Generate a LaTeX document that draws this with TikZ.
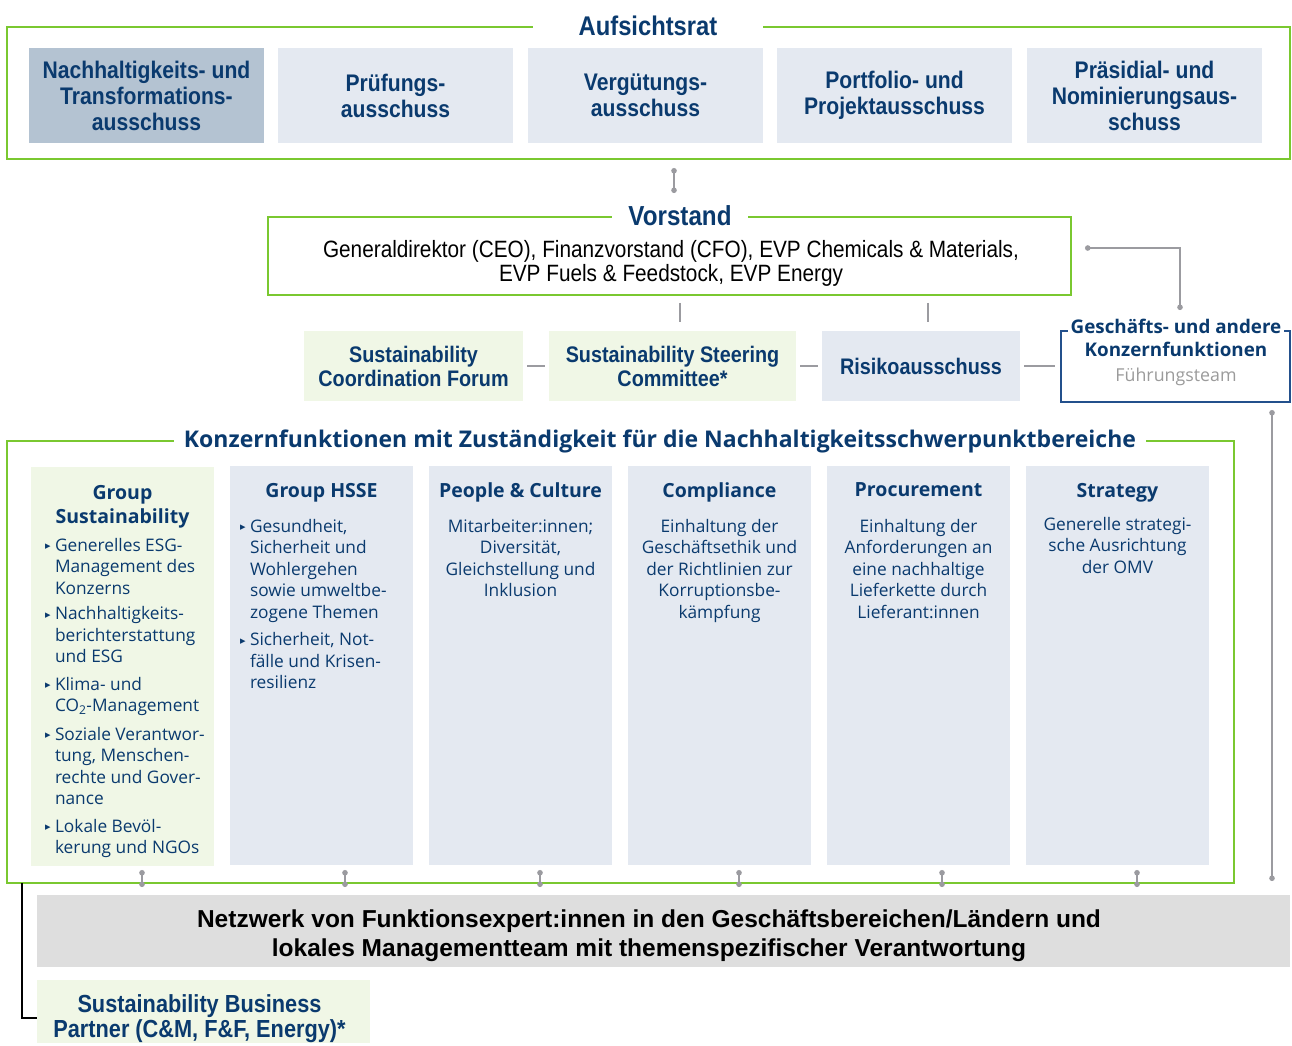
\documentclass[tikz,border=0pt]{standalone}
\usepackage{fontspec}
\setmainfont{Open Sans}
\newfontfamily\condf[FakeStretch=0.88]{Liberation Sans}
\newfontfamily\plainf{Liberation Sans}
\newfontfamily\symf{DejaVu Sans}
\usetikzlibrary{arrows.meta,positioning}
\definecolor{kgreen}{RGB}{122,200,48}
\definecolor{kblue}{RGB}{10,58,110}
\definecolor{kpale}{RGB}{228,233,241}
\definecolor{kdark}{RGB}{180,195,210}
\definecolor{kmint}{RGB}{240,247,230}
\definecolor{kgrey}{RGB}{222,222,222}
\definecolor{klink}{RGB}{155,155,160}
\definecolor{knavy}{RGB}{35,80,140}
\definecolor{kmute}{RGB}{155,155,155}
\newcommand{\bul}{\makebox[10pt][l]{\raisebox{1.5pt}{\symf\fontsize{11}{11}\selectfont ▸}}}
\newcommand{\hi}{\hspace*{10pt}}
\tikzset{
  frame/.style={draw=kgreen, line width=1.8pt, inner sep=0pt},
  ftitle/.style={fill=white, text=kblue, inner ysep=3pt,
    font=\condf\bfseries\fontsize{27}{28}\selectfont},
  topbox/.style={fill=kpale, text=kblue, align=center, minimum width=235pt,
    minimum height=95pt, inner sep=0pt, font=\condf\bfseries\fontsize{24}{26}\selectfont},
  midbox/.style={text=kblue, align=center, minimum height=70pt, inner sep=0pt,
    font=\condf\bfseries\fontsize{22.5}{24}\selectfont},
  colbox/.style={fill=kpale, minimum width=183pt, minimum height=399pt, inner sep=0pt},
  colhead/.style={text=kblue, align=center, anchor=north, inner sep=0pt,
    font=\bfseries\fontsize{19.5}{24}\selectfont},
  colbody/.style={text=kblue, align=center, anchor=north, inner sep=0pt,
    font=\fontsize{17.3}{21.5}\selectfont},
  conn/.style={draw=klink, line width=1.5pt},
  dotlink/.style={conn, {Circle[length=5.5pt]}-{Circle[length=5.5pt]}}
}
\begin{document}
\begin{tikzpicture}[x=1pt, y=-1pt]
  \useasboundingbox (0,0) rectangle (1292,1045);

  % Aufsichtsrat
  \node[frame, minimum width=1283pt, minimum height=132pt] (aufs) at (648.5,93) {};
  \node[ftitle, inner xsep=46pt] (aufst) at (648,26) {Aufsichtsrat};
  \node[topbox, fill=kdark] (nta) at (146.5,95.5) {Nachhaltigkeits- und\\Transformations-\\ausschuss};
  \node[topbox] (pruef) at (395.5,95.5) {Prüfungs-\\ausschuss};
  \node[topbox] (verg) at (645.5,95.5) {Vergütungs-\\ausschuss};
  \node[topbox] (portf) at (894.5,95.5) {Portfolio- und\\Projektausschuss};
  \node[topbox] (praes) at (1144.5,95.5) {Präsidial- und\\Nominierungsaus-\\schuss};

  \coordinate (av1) at (674,168);
  \coordinate (av2) at (674,193);
  \draw[dotlink] (av1) -- (av2);

  % Vorstand
  \node[frame, minimum width=803pt, minimum height=78pt] (vorst) at (669.5,256) {};
  \node[ftitle, inner xsep=16pt, font=\condf\bfseries\fontsize{27.5}{28}\selectfont] (vorstt) at (680,216) {Vorstand};
  \node[align=center, inner sep=0pt, font=\condf\fontsize{23.6}{24}\selectfont] (vbody) at (671,263)
    {Generaldirektor (CEO), Finanzvorstand (CFO), EVP Chemicals \& Materials,\\EVP Fuels \& Feedstock, EVP Energy};

  % Gremien
  \node[midbox, fill=kmint, minimum width=219pt] (scf) at (413.5,366) {Sustainability\\Coordination Forum};
  \node[midbox, fill=kmint, minimum width=247pt] (ssc) at (672.5,366) {Sustainability Steering\\Committee*};
  \node[midbox, fill=kpale, minimum width=198pt] (risk) at (921,366) {Risikoausschuss};
  \node[draw=knavy, line width=1.5pt, fill=white, minimum width=229pt, minimum height=71pt] (gf) at (1175.5,366.5) {};
  \node[fill=white, text=kblue, align=center, inner xsep=3pt, inner ysep=2pt,
    font=\bfseries\fontsize{18.8}{23}\selectfont] (gft) at (1176,337.5) {Geschäfts- und andere\\Konzernfunktionen};
  \node[text=kmute, inner sep=0pt, font=\fontsize{17.8}{20}\selectfont] (gfs) at (1176,377) {Führungsteam};

  \draw[conn, shorten <=7pt, shorten >=9pt] (vorst.south -| 680,0) -- (ssc.north -| 680,0);
  \draw[conn, shorten <=7pt, shorten >=9pt] (vorst.south -| 928,0) -- (risk.north -| 928,0);
  \draw[conn, shorten <=4pt, shorten >=4pt] (scf) -- (ssc);
  \draw[conn, shorten <=4pt, shorten >=4pt] (ssc) -- (risk);
  \draw[conn, shorten <=4pt, shorten >=5pt] (risk.east) -- (risk.east -| gf.west);

  \coordinate (vg1) at (1085,248);
  \coordinate (vg2) at (1180,310);
  \draw[dotlink] (vg1) -| (vg2);
  \coordinate (gr1) at (1272,410);
  \coordinate (gr2) at (1272,881);
  \draw[dotlink] (gr1) -- (gr2);

  % Konzernfunktionen
  \node[frame, minimum width=1227pt, minimum height=442pt] (konz) at (620.5,662) {};
  \node[fill=white, text=kblue, inner xsep=10pt, inner ysep=3pt,
    font=\bfseries\fontsize{23}{26}\selectfont] (konzt) at (660,441)
    {Konzernfunktionen mit Zuständigkeit für die Nachhaltigkeitsschwerpunktbereiche};

  \node[colbox, fill=kmint] (gs) at (122.5,666.5) {};
  \node[colbox] (hsse) at (321.5,665.5) {};
  \node[colbox] (pc) at (520.5,665.5) {};
  \node[colbox] (comp) at (719.5,665.5) {};
  \node[colbox] (proc) at (918.5,665.5) {};
  \node[colbox] (strat) at (1117.5,665.5) {};

  \node[colhead] at ([yshift=-18pt]gs.north) {Group\\Sustainability};
  \node[colhead] at ([yshift=-17pt]hsse.north) {Group HSSE};
  \node[colhead] at ([yshift=-17pt]pc.north) {People \& Culture};
  \node[colhead] at ([yshift=-17pt]comp.north) {Compliance};
  \node[colhead] at ([yshift=-17pt]proc.north) {Procurement};
  \node[colhead] at ([yshift=-17pt]strat.north) {Strategy};

  \node[colbody, align=left, anchor=north west] at ([xshift=14pt, yshift=-71pt]gs.north west)
    {\bul Generelles ESG-\\
     \hi Management des\\
     \hi Konzerns\\[4pt]
     \bul Nachhaltigkeits-\\
     \hi berichterstattung\\
     \hi und ESG\\[6pt]
     \bul Klima- und\\
     \hi CO\textsubscript{2}-Management\\[7pt]
     \bul Soziale Verantwor-\\
     \hi tung, Menschen-\\
     \hi rechte und Gover-\\
     \hi nance\\[6pt]
     \bul Lokale Bevöl-\\
     \hi kerung und NGOs};
  \node[colbody, align=left, anchor=north west] at ([xshift=10pt, yshift=-53pt]hsse.north west)
    {\bul Gesundheit,\\
     \hi Sicherheit und\\
     \hi Wohlergehen\\
     \hi sowie umweltbe-\\
     \hi zogene Themen\\[6pt]
     \bul Sicherheit, Not-\\
     \hi fälle und Krisen-\\
     \hi resilienz};
  \node[colbody] at ([yshift=-53pt]pc.north)
    {Mitarbeiter:innen;\\Diversität,\\Gleichstellung und\\Inklusion};
  \node[colbody] at ([yshift=-53pt]comp.north)
    {Einhaltung der\\Geschäftsethik und\\der Richtlinien zur\\Korruptionsbe-\\kämpfung};
  \node[colbody] at ([yshift=-53pt]proc.north)
    {Einhaltung der\\Anforderungen an\\eine nachhaltige\\Lieferkette durch\\Lieferant:innen};
  \node[colbody] at ([yshift=-51pt]strat.north)
    {Generelle strategi-\\sche Ausrichtung\\der OMV};

  % Verbindungen zum Netzwerk
  \foreach \x [count=\i] in {142,345,540,739,942,1137} {
    \coordinate (nt\i) at (\x,870);
    \coordinate (nb\i) at (\x,887);
    \draw[dotlink] (nt\i) -- (nb\i);
  }

  % Netzwerk
  \node[fill=kgrey, minimum width=1253pt, minimum height=72pt, inner sep=0pt] (netz) at (663.5,931) {};
  \node[align=center, inner sep=0pt, font=\plainf\bfseries\fontsize{24.5}{29}\selectfont] (netzt) at (649,936)
    {Netzwerk von Funktionsexpert:innen in den Geschäftsbereichen/Ländern und\\lokales Managementteam mit themenspezifischer Verantwortung};

  \node[fill=kmint, minimum width=333pt, minimum height=63pt, inner sep=0pt] (sbp) at (203.5,1011.5) {};
  \node[midbox, minimum height=0pt, font=\condf\bfseries\fontsize{24.7}{25}\selectfont] (sbpt) at (199.5,1018.5)
    {Sustainability Business\\Partner (C\&M, F\&F, Energy)*};
  \coordinate (kb) at (22,883);
  \draw[black, line width=1.5pt] (kb) |- ([yshift=-6.5pt]sbp.west);
\end{tikzpicture}
\end{document}
